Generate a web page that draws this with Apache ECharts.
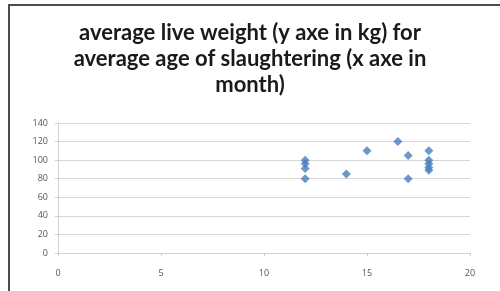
<!DOCTYPE html>
<html>
<head>
<meta charset="utf-8">
<script src="https://cdn.jsdelivr.net/npm/echarts@6/dist/echarts.min.js"></script>
<style>
  html, body { margin: 0; padding: 0; background: #fff; overflow: hidden; }
  #chart { width: 500px; height: 291px; }
</style>
</head>
<body>
<div id="chart"></div>
<script>
// age of slaughtering (months) and live weight (kg)
var ageMonths = [12, 12, 12, 12, 14, 15, 16.5, 17, 17, 18, 18, 18, 18, 18];
var weightKg  = [100, 96, 91, 80, 85, 110, 120, 105, 80, 110, 100, 96, 92, 89];
var xTicks = [0, 5, 10, 15, 20];
var yTicks = [0, 20, 40, 60, 80, 100, 120, 140];

var points = [];
for (var i = 0; i < ageMonths.length; i++) {
    points.push([ageMonths[i], weightKg[i]]);
}

var myChart = echarts.init(document.getElementById('chart'));
var option = {
    animation: false,
    backgroundColor: '#fff',
    title: {
        text: 'average live weight (y axe in kg) for\naverage age of slaughtering (x axe in\nmonth)',
        left: 'center',
        top: 15,
        textStyle: {
            fontFamily: 'Lato',
            fontWeight: 'bold',
            fontSize: 22,
            lineHeight: 26,
            color: '#1a1a1a'
        }
    },
    // frame of the original picture: only the top and left edges are visible
    graphic: [
        { type: 'line', silent: true, shape: { x1: 9, y1: 4, x2: 9, y2: 291 },
          style: { stroke: '#4d4d4d', lineWidth: 2 } },
        { type: 'line', silent: true, shape: { x1: 8, y1: 5, x2: 500, y2: 5 },
          style: { stroke: '#4d4d4d', lineWidth: 2 } }
    ],
    grid: { left: 58, right: 30, top: 123, bottom: 38 },
    xAxis: {
        type: 'value',
        min: xTicks[0],
        max: xTicks[xTicks.length - 1],
        interval: 5,
        axisLine: { show: true, lineStyle: { color: '#d0d0d0' } },
        axisTick: { show: true, length: 3, lineStyle: { color: '#d0d0d0' } },
        splitLine: { show: false },
        axisLabel: { color: '#555', fontSize: 9, fontFamily: 'Open Sans', margin: 16 }
    },
    yAxis: {
        type: 'value',
        min: yTicks[0],
        max: yTicks[yTicks.length - 1],
        interval: 20,
        axisLine: { show: true, lineStyle: { color: '#d0d0d0' } },
        axisTick: { show: true, length: 3, lineStyle: { color: '#d0d0d0' } },
        splitLine: { show: true, lineStyle: { color: '#d6d6d6' } },
        axisLabel: { color: '#555', fontSize: 9, fontFamily: 'Open Sans', margin: 10 }
    },
    series: [{
        type: 'scatter',
        data: points,
        symbol: 'diamond',
        symbolSize: 9,
        itemStyle: { color: '#4a7ebb' }
    }]
};
myChart.setOption(option);
</script>
</body>
</html>
